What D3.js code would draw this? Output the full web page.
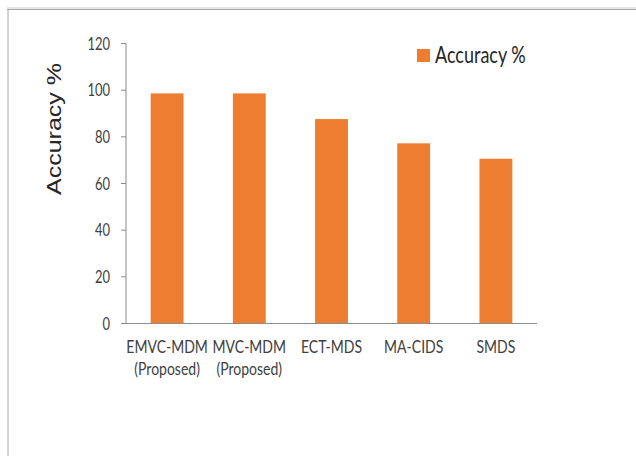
<!DOCTYPE html>
<html>
<head>
<meta charset="utf-8">
<script src="https://cdn.jsdelivr.net/npm/d3@7"></script>
<style>
  html, body { margin: 0; padding: 0; background: #fff; }
  svg { display: block; }
</style>
</head>
<body>
<svg id="chart" width="636" height="456"></svg>
<script>
// Accuracy of each detection scheme
const categories = [
  ["EMVC-MDM", "(Proposed)"],
  ["MVC-MDM", "(Proposed)"],
  ["ECT-MDS"],
  ["MA-CIDS"],
  ["SMDS"]
];
const accuracy = [98.4, 98.4, 87.4, 77.0, 70.4];
const yTicks = [0, 20, 40, 60, 80, 100, 120];
const seriesName = "Accuracy %";
const yTitle = "Accuracy %";

const svg = d3.select("#chart");
const barColor = "#ED7D31";
const axisColor = "#8c8c8c";
const stretch = 1.27; // text is drawn slightly tall

// frame around the chart area
svg.append("rect").attr("x", 7).attr("y", 7).attr("width", 629).attr("height", 2).attr("fill", "#e6e6e6");
svg.append("line").attr("x1", 7).attr("x2", 636).attr("y1", 9.5).attr("y2", 9.5)
  .attr("stroke", "#a6a6a6").attr("stroke-width", 1);
svg.append("line").attr("x1", 8).attr("x2", 8).attr("y1", 9).attr("y2", 456)
  .attr("stroke", "#a6a6a6").attr("stroke-width", 1);

const keys = categories.map(c => c.join(" "));
const x = d3.scaleBand().domain(keys).range([126, 537]).paddingInner(0.6).paddingOuter(0.3);
const y = d3.scaleLinear().domain([0, 120]).range([323, 43]);

// bars
svg.append("g").selectAll("rect").data(accuracy).join("rect")
  .attr("x", (d, i) => x(keys[i]))
  .attr("width", x.bandwidth())
  .attr("y", d => y(d))
  .attr("height", d => y(0) - y(d))
  .attr("fill", barColor);

// y axis
const yAxis = svg.append("g").attr("transform", "translate(126,0)")
  .call(d3.axisLeft(y).tickValues(yTicks).tickSize(5).tickFormat(d3.format("d")));
yAxis.select(".domain").attr("stroke", axisColor).attr("d", `M0,${y(120)}V${y(0)}`);
yAxis.selectAll(".tick line").attr("stroke", axisColor);
yAxis.selectAll(".tick text").remove();
yAxis.selectAll(".tick").append("text")
  .attr("transform", `translate(-16,6) scale(1,${stretch})`)
  .attr("text-anchor", "end")
  .attr("font-family", "Lato, sans-serif")
  .attr("font-size", 13)
  .attr("fill", "#404040")
  .text(d => d);

// x axis line
svg.append("line").attr("x1", 126).attr("x2", 537).attr("y1", y(0) + 0.5).attr("y2", y(0) + 0.5)
  .attr("stroke", axisColor);

// category labels
const lab = svg.append("g").selectAll("g").data(categories).join("g")
  .attr("transform", (d, i) => `translate(${x(keys[i]) + x.bandwidth() / 2},0)`);
lab.selectAll("text").data(d => d).join("text")
  .attr("transform", (d, j) => `translate(0,${353 + j * 22}) scale(1,${stretch})`)
  .attr("text-anchor", "middle")
  .attr("font-family", "Lato, sans-serif")
  .attr("font-size", 14)
  .attr("fill", "#404040")
  .text(d => d);

// y axis title
svg.append("text")
  .attr("transform", `translate(61,129) scale(1,1.25) rotate(-90)`)
  .attr("text-anchor", "middle")
  .attr("font-family", "'Liberation Sans', Arial, sans-serif")
  .attr("font-size", 20)
  .attr("fill", "#262626")
  .text(yTitle);

// legend
const legend = svg.append("g");
legend.append("rect").attr("x", 417).attr("y", 49).attr("width", 13).attr("height", 13).attr("fill", barColor);
legend.append("text")
  .attr("transform", `translate(435,63) scale(1,${stretch})`)
  .attr("font-family", "Lato, sans-serif")
  .attr("font-size", 18)
  .attr("fill", "#262626")
  .text(seriesName);
</script>
</body>
</html>
